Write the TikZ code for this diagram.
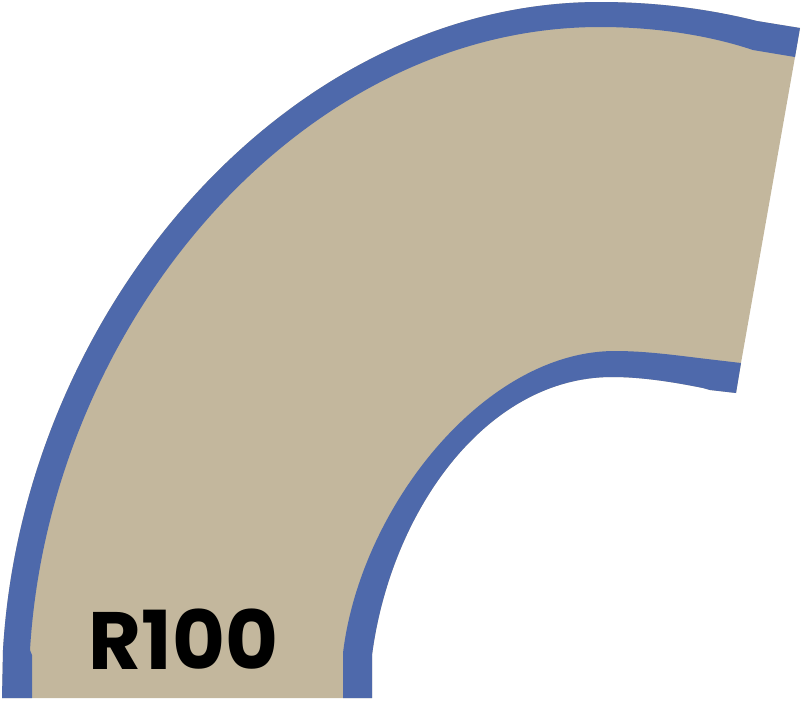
\documentclass[tikz,border=0pt]{standalone}
\usepackage{fontspec}
\setmainfont{Poppins}
\definecolor{roadfill}{HTML}{C3B79D}
\definecolor{edgeblue}{HTML}{4E69AB}
\begin{document}
\begin{tikzpicture}[x=0.75pt,y=-0.75pt,
  surface/.style={fill=roadfill},
  kerb/.style={fill=edgeblue},
  roadlabel/.style={font=\bfseries\fontsize{61}{61}\selectfont,text=black,anchor=base,inner sep=0pt}]
\useasboundingbox (0,0) rectangle (801,719);
% key points
\coordinate (ob1) at (2,698);   \coordinate (ob2) at (3,650);
\coordinate (otop) at (600,2);  \coordinate (oknee) at (757,21);
\coordinate (oend1) at (800,28); \coordinate (oend2) at (795,57);
\coordinate (ofk) at (753,50);  \coordinate (oftop) at (600,27);
\coordinate (of1) at (30,650);  \coordinate (of2) at (32,655); \coordinate (of3) at (32,698);
\coordinate (ib1) at (343,698); \coordinate (ib2) at (343,653);
\coordinate (itop) at (615,351); \coordinate (iknee) at (707,359);
\coordinate (iend1) at (741,363); \coordinate (iend2) at (736,393);
\coordinate (iwk1) at (710,390); \coordinate (iwk2) at (703,388);
\coordinate (iwtop) at (612,377); \coordinate (iw1) at (373,648);
\coordinate (iw2) at (372,655); \coordinate (iw3) at (372,698);
% road surface (whole piece, kerbs drawn on top)
\path[surface] (ob1) -- (ob2) .. controls (23,310) and (287,2) .. (otop)
  .. controls (652,2) and (705,8) .. (oknee) -- (oend1) -- (oend2) -- (iend1) -- (iend2)
  -- (iwk1) -- (iwk2) .. controls (673,382) and (642,377) .. (iwtop)
  .. controls (488,377) and (394,507) .. (iw1) -- (iw2) -- (iw3) -- cycle;
% outer kerb
\path[kerb] (ob1) -- (ob2) .. controls (23,310) and (287,2) .. (otop)
  .. controls (652,2) and (705,8) .. (oknee) -- (oend1) -- (oend2) -- (ofk)
  .. controls (705,34) and (651,27) .. (oftop)
  .. controls (301,27) and (49.6,323) .. (of1) -- (of2) -- (of3) -- cycle;
% inner kerb
\path[kerb] (ib1) -- (ib2) .. controls (360.4,508) and (484,351) .. (itop)
  .. controls (646,351) and (676,355.3) .. (iknee) -- (iend1) -- (iend2)
  -- (iwk1) -- (iwk2) .. controls (673,382) and (642,377) .. (iwtop)
  .. controls (488,377) and (394,507) .. (iw1) -- (iw2) -- (iw3) -- cycle;
\node[roadlabel] (label) at (183.5,669) {R100};
\end{tikzpicture}
\end{document}
